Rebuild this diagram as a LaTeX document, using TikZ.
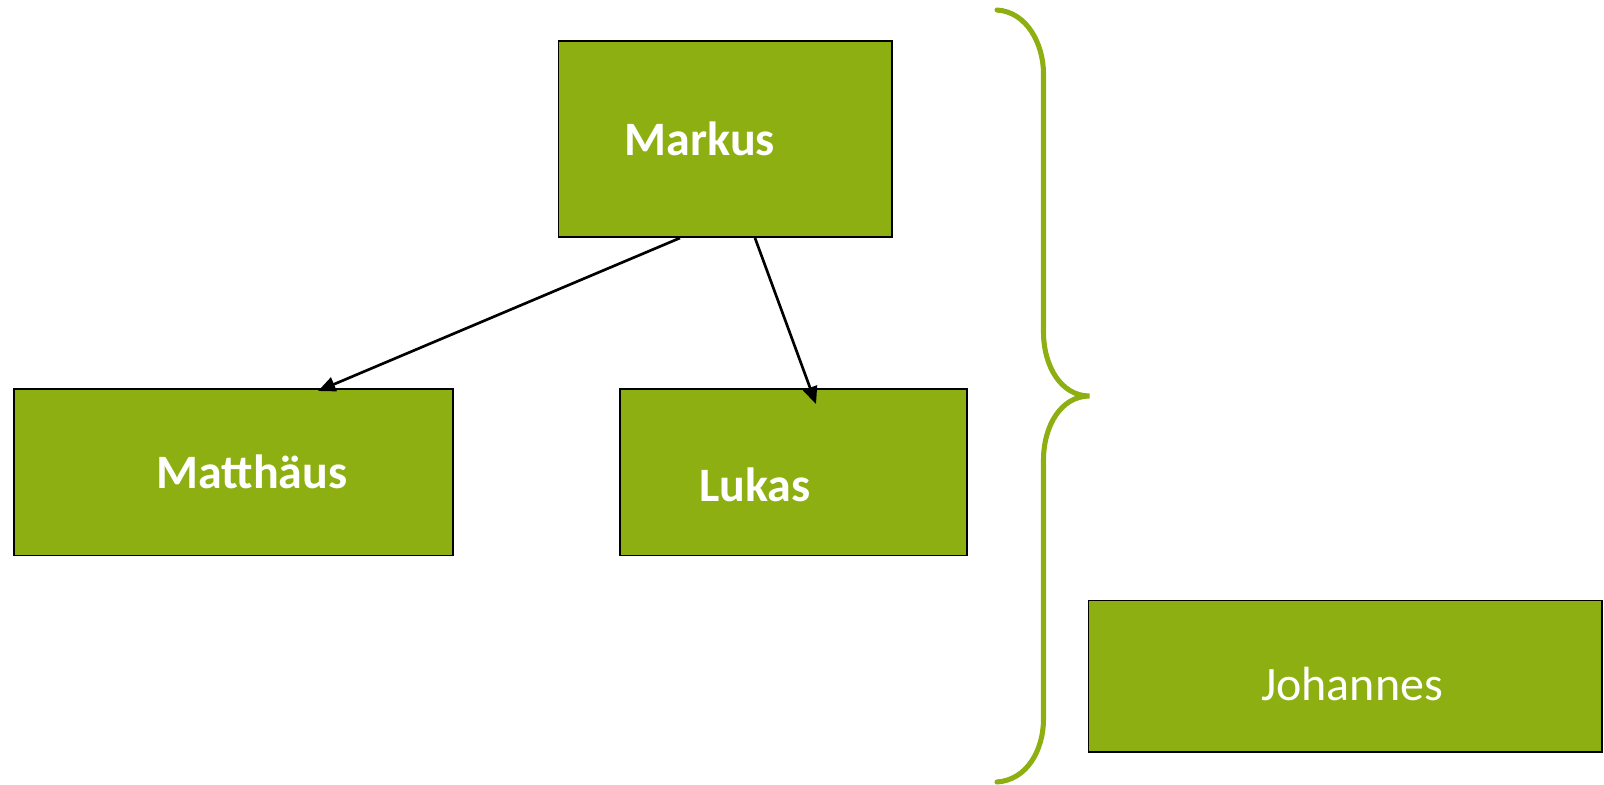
\documentclass[tikz,border=0pt]{standalone}
\usepackage{fontspec}
\setmainfont{Carlito}
\usetikzlibrary{arrows.meta}
\definecolor{leaf}{HTML}{8DAF12}
\tikzset{
  box/.style={draw=black, line width=1.4pt, fill=leaf, inner sep=0pt},
  boxtext/.style={text=white, font=\fontsize{36}{40}\selectfont, inner sep=0pt, anchor=base},
  link/.style={draw=black, line width=2pt, -{Triangle[length=13pt,width=11pt]}},
  brace/.style={draw=leaf, line width=3.8pt, line cap=round}
}
\begin{document}
\begin{tikzpicture}[x=0.75pt, y=-0.75pt]
\useasboundingbox (0,0) rectangle (1604,785);
% gospel boxes
\node[box, minimum width=333.5*0.75pt, minimum height=196*0.75pt] (markus) at (725.3,139) {};
\node[box, minimum width=438.7*0.75pt, minimum height=166.5*0.75pt] (matthaeus) at (233.7,472.2) {};
\node[box, minimum width=347*0.75pt, minimum height=166.5*0.75pt] (lukas) at (793.5,472.2) {};
\node[box, minimum width=513.5*0.75pt, minimum height=151.5*0.75pt] (johannes) at (1345.3,676.3) {};
% labels
\node[boxtext, font=\fontsize{36}{40}\selectfont\bfseries] (tmarkus) at (700,155) {Markus};
\node[boxtext, font=\fontsize{36}{40}\selectfont\bfseries] (tmatthaeus) at (252,488) {Matthäus};
\node[boxtext, font=\fontsize{36}{40}\selectfont\bfseries] (tlukas) at (755,501) {Lukas};
\node[boxtext] (tjohannes) at (1352,700) {Johannes};
% dependencies
\coordinate (m1) at (680,238);
\coordinate (m2) at (755,238);
\coordinate (e1) at (318,391);
\coordinate (e2) at (816,404);
\draw[link] (m1) -- (e1);
\draw[link] (m2) -- (e2);
% curly brace
\coordinate (btop) at (997,10);
\coordinate (btip) at (1089.5,396);
\coordinate (bbot) at (997,782);
\draw[brace] (btop) .. controls (1027,12) and (1043.5,44) .. (1043.5,74)
  -- (1043.5,332) .. controls (1043.5,366) and (1061,396) .. (btip)
  .. controls (1061,396) and (1043.5,426) .. (1043.5,460)
  -- (1043.5,719) .. controls (1043.5,750) and (1027,780) .. (bbot);
\end{tikzpicture}
\end{document}
